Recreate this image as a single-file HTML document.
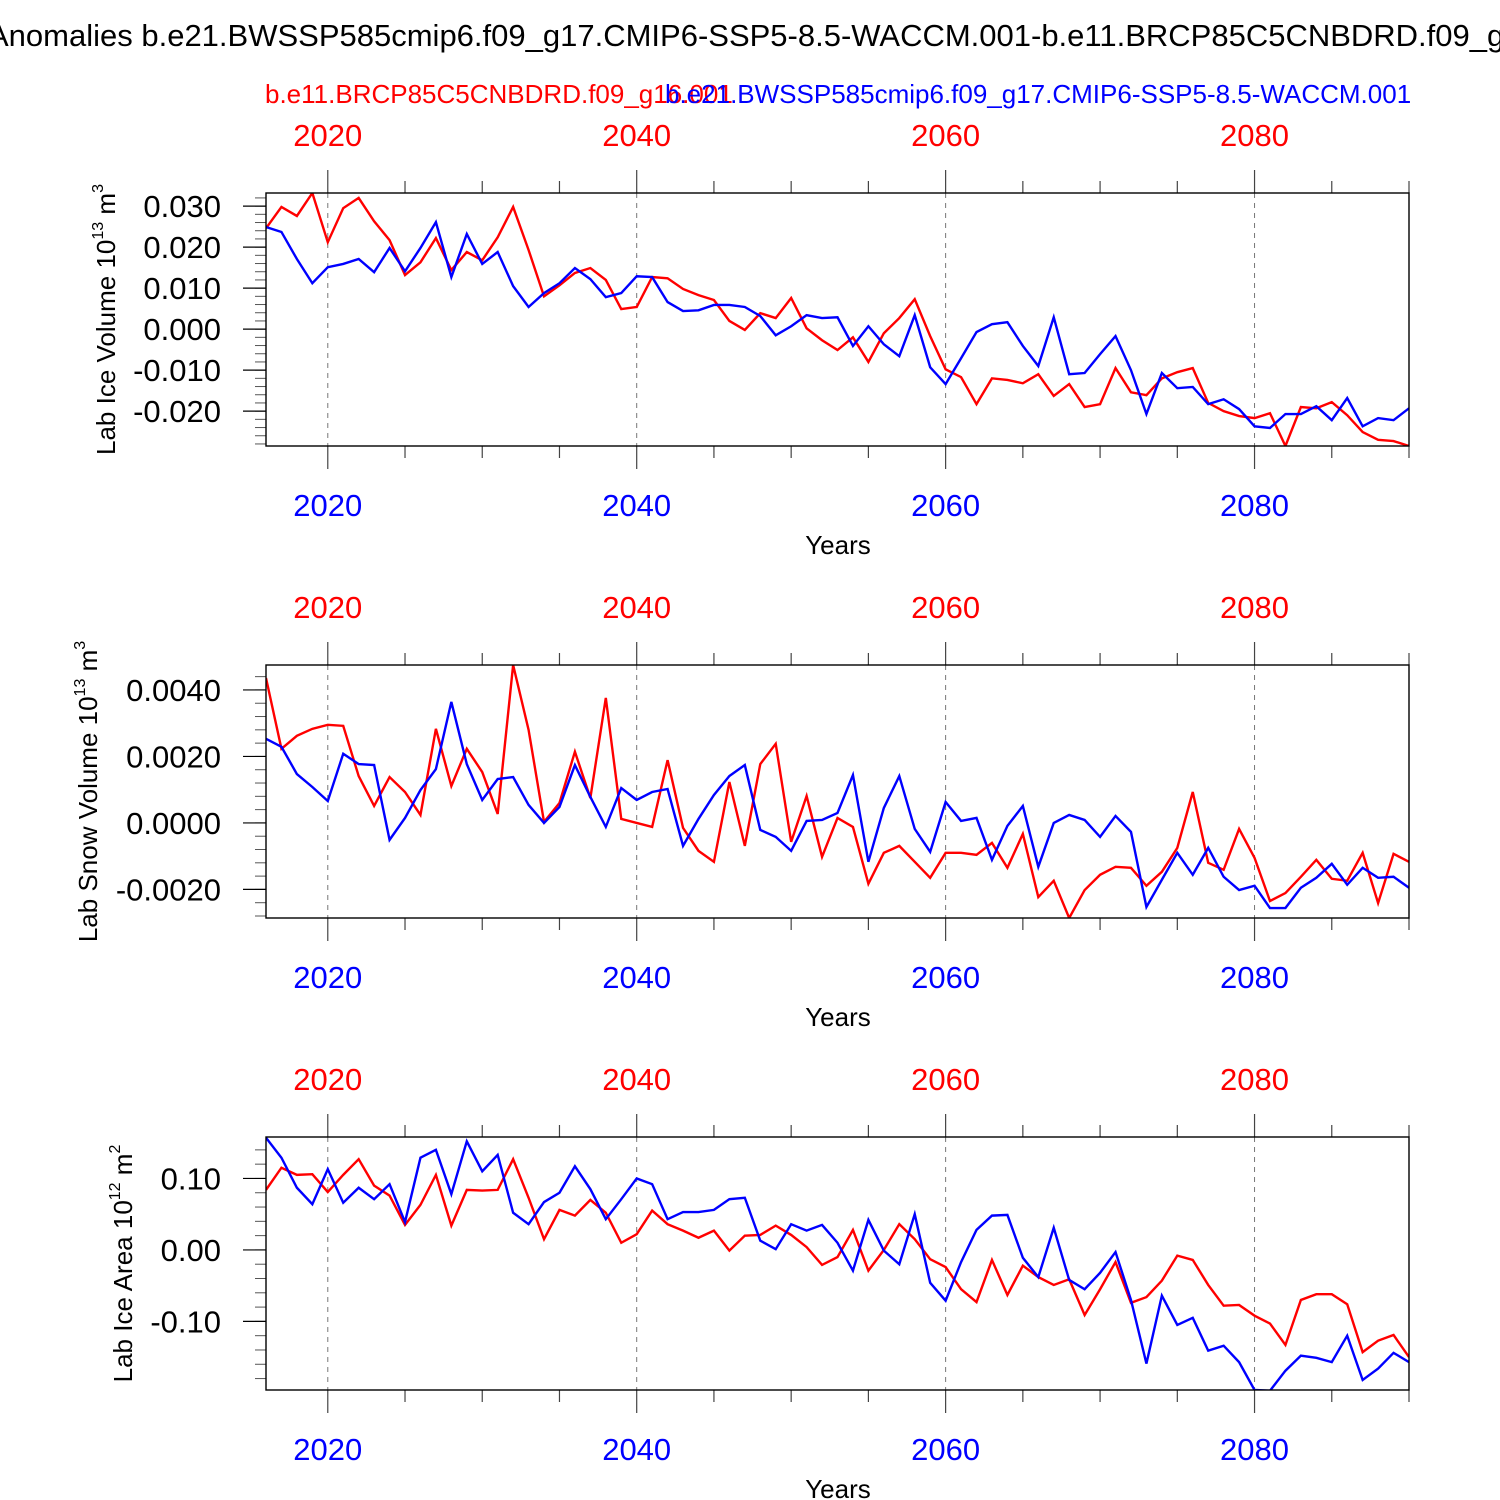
<!DOCTYPE html>
<html><head><meta charset="utf-8"><style>body{margin:0;background:#fff}svg{display:block}text{font-family:"Liberation Sans",sans-serif}</style></head>
<body>
<svg id="chart" width="1500" height="1500" xmlns="http://www.w3.org/2000/svg">
<text x="-12" y="46" font-size="31" fill="#000">Anomalies b.e21.BWSSP585cmip6.f09_g17.CMIP6-SSP5-8.5-WACCM.001-b.e11.BRCP85C5CNBDRD.f09_g16.001</text>
<text x="265" y="103" font-size="26" fill="#ff0000">b.e11.BRCP85C5CNBDRD.f09_g16.001</text>
<text x="665" y="103" font-size="26" fill="#0000ff">b.e21.BWSSP585cmip6.f09_g17.CMIP6-SSP5-8.5-WACCM.001</text>
</svg>
<script>
const years=[];for(let y=2016;y<=2090;y++)years.push(y);
const iceVolRed=[0.0246,0.0298,0.0276,0.0332,0.0212,0.0295,0.032,0.0263,0.0217,0.0132,0.0163,0.0222,0.0144,0.0188,0.0168,0.0224,0.0298,0.0193,0.008,0.0107,0.0137,0.0149,0.012,0.0049,0.0054,0.0127,0.0124,0.0098,0.0083,0.0071,0.002,-0.0002,0.0039,0.0027,0.0076,0.0002,-0.0027,-0.0051,-0.002,-0.008,-0.001,0.0027,0.0073,-0.0017,-0.0098,-0.0117,-0.0183,-0.012,-0.0124,-0.0132,-0.011,-0.0163,-0.0134,-0.019,-0.0183,-0.0095,-0.0154,-0.0161,-0.012,-0.0105,-0.0095,-0.018,-0.02,-0.0212,-0.0217,-0.0205,-0.0285,-0.019,-0.0193,-0.0178,-0.021,-0.0251,-0.027,-0.0273,-0.0285];
const iceVolBlue=[0.0249,0.0237,0.0171,0.0112,0.0151,0.0159,0.0171,0.0139,0.0198,0.0141,0.0198,0.0261,0.0127,0.0232,0.0159,0.0188,0.0105,0.0054,0.0088,0.0112,0.0149,0.0122,0.0078,0.0088,0.0129,0.0127,0.0066,0.0044,0.0046,0.0059,0.0059,0.0054,0.0032,-0.0015,0.0007,0.0034,0.0027,0.0029,-0.0041,0.0007,-0.0037,-0.0066,0.0034,-0.0093,-0.0134,-0.0071,-0.0007,0.0012,0.0017,-0.0041,-0.009,0.0029,-0.011,-0.0107,-0.0061,-0.0017,-0.01,-0.0207,-0.0107,-0.0144,-0.0141,-0.0183,-0.0171,-0.0195,-0.0237,-0.0241,-0.0207,-0.0207,-0.0188,-0.0222,-0.0168,-0.0237,-0.0217,-0.0222,-0.0193];
const snowRed=[4.36,2.23,2.62,2.83,2.95,2.92,1.41,0.51,1.38,0.93,0.24,2.83,1.11,2.23,1.53,0.27,4.75,2.8,0.03,0.6,2.14,0.75,3.76,0.12,0,-0.12,1.89,-0.15,-0.84,-1.17,1.23,-0.69,1.77,2.38,-0.57,0.81,-1.02,0.15,-0.12,-1.83,-0.9,-0.69,-1.17,-1.65,-0.9,-0.9,-0.96,-0.6,-1.35,-0.33,-2.23,-1.74,-2.86,-2.02,-1.56,-1.32,-1.35,-1.89,-1.47,-0.75,0.93,-1.2,-1.41,-0.18,-1.05,-2.35,-2.11,-1.62,-1.11,-1.68,-1.74,-0.9,-2.41,-0.93,-1.17].map(v=>v/1000);
const snowBlue=[2.53,2.29,1.47,1.08,0.66,2.08,1.77,1.74,-0.51,0.15,0.99,1.62,3.64,1.77,0.69,1.32,1.38,0.54,0,0.48,1.74,0.78,-0.12,1.05,0.69,0.93,1.02,-0.69,0.12,0.84,1.41,1.74,-0.21,-0.42,-0.84,0.06,0.09,0.3,1.44,-1.17,0.45,1.41,-0.18,-0.87,0.63,0.06,0.15,-1.11,-0.09,0.51,-1.32,0,0.24,0.09,-0.42,0.21,-0.27,-2.53,-1.71,-0.9,-1.56,-0.75,-1.62,-2.02,-1.89,-2.56,-2.56,-1.95,-1.65,-1.23,-1.86,-1.35,-1.65,-1.62,-1.95].map(v=>v/1000);
const areaRed=[0.084,0.115,0.105,0.106,0.081,0.105,0.127,0.09,0.076,0.035,0.063,0.105,0.034,0.084,0.083,0.084,0.127,0.073,0.015,0.056,0.048,0.07,0.052,0.01,0.022,0.055,0.036,0.027,0.017,0.027,-0.001,0.02,0.021,0.034,0.021,0.004,-0.021,-0.01,0.028,-0.029,0,0.036,0.015,-0.013,-0.024,-0.055,-0.073,-0.014,-0.063,-0.022,-0.038,-0.049,-0.041,-0.091,-0.055,-0.017,-0.074,-0.066,-0.043,-0.008,-0.014,-0.049,-0.078,-0.077,-0.092,-0.103,-0.133,-0.07,-0.062,-0.062,-0.076,-0.143,-0.127,-0.119,-0.15];
const areaBlue=[0.157,0.129,0.087,0.064,0.113,0.066,0.087,0.071,0.092,0.039,0.129,0.14,0.078,0.152,0.11,0.133,0.052,0.036,0.067,0.08,0.117,0.085,0.043,0.071,0.1,0.092,0.043,0.053,0.053,0.056,0.071,0.073,0.013,0.001,0.036,0.027,0.035,0.01,-0.029,0.042,-0.001,-0.02,0.05,-0.046,-0.071,-0.017,0.028,0.048,0.049,-0.011,-0.038,0.031,-0.042,-0.055,-0.032,-0.003,-0.07,-0.159,-0.064,-0.105,-0.095,-0.141,-0.134,-0.157,-0.196,-0.197,-0.169,-0.148,-0.151,-0.157,-0.12,-0.182,-0.166,-0.144,-0.157];
const xTickYears=[2020,2040,2060,2080];
const ticks1=[0.03,0.02,0.01,0,-0.01,-0.02], labels1=["0.030","0.020","0.010","0.000","-0.010","-0.020"];
const ticks2=[0.004,0.002,0,-0.002], labels2=["0.0040","0.0020","0.0000","-0.0020"];
const ticks3=[0.1,0,-0.1], labels3=["0.10","0.00","-0.10"];

const svg=document.getElementById('chart');const NS='http://www.w3.org/2000/svg';
function mk(tag,attrs,parent){const e=document.createElementNS(NS,tag);for(const k in attrs)e.setAttribute(k,attrs[k]);(parent||svg).appendChild(e);return e;}
const X0=266,X1=1409,Y0=2016,Y1=2090;
function xs(y){return X0+(y-Y0)*(X1-X0)/(Y1-Y0);}
function panel(top,vmin,vmax,ticks,labels,minorStep,red,blue,title,titleX,sup,name){
  const bot=top+253;
  const ys=v=>bot-(v-vmin)*(bot-top)/(vmax-vmin);
  const g=mk('g',{});
  
  
  xTickYears.forEach(yr=>{const l=mk('line',{x1:xs(yr),x2:xs(yr),y1:top,y2:bot,stroke:'#777','stroke-width':1,'stroke-dasharray':'5,5'},g);
    
    });
  for(let yr=2020;yr<=2090;yr+=5){const maj=(yr%20===0);const L=maj?23:12;
    mk('line',{x1:xs(yr),x2:xs(yr),y1:top,y2:top-L,stroke:'#444','stroke-width':1.2},g);
    mk('line',{x1:xs(yr),x2:xs(yr),y1:bot,y2:bot+L,stroke:'#444','stroke-width':1.2},g);}
  for(let v=Math.ceil(vmin/minorStep)*minorStep;v<=vmax+1e-12;v+=minorStep){mk('line',{x1:X0,x2:X0-11,y1:ys(v),y2:ys(v),stroke:'#555','stroke-width':1},g);}
  ticks.forEach((v,i)=>{mk('line',{x1:X0,x2:X0-23,y1:ys(v),y2:ys(v),stroke:'#000','stroke-width':1.2},g);
    const t=mk('text',{x:221,y:ys(v)+11,'font-size':31,'text-anchor':'end'},g);t.textContent=labels[i];
    
    });
  xTickYears.forEach(yr=>{
    const a=mk('text',{x:xs(yr),y:top-47,'font-size':31,'text-anchor':'middle',fill:'#ff0000'},g);a.textContent=yr;
    
    
    const b=mk('text',{x:xs(yr),y:bot+70,'font-size':31,'text-anchor':'middle',fill:'#0000ff'},g);b.textContent=yr;
    
    });
  const xt=mk('text',{x:838,y:bot+108,'font-size':26,'text-anchor':'middle'},g);xt.textContent='Years';
  
  
  const yt=mk('text',{x:0,y:0,'font-size':26,'text-anchor':'middle',transform:`translate(${titleX},${(top+bot)/2}) rotate(-90)`},g);
  
  
  yt.innerHTML=title+' 10<tspan font-size="16" dy="-12">'+sup+'</tspan><tspan dy="12"> m</tspan><tspan font-size="16" dy="-12">'+(name==='panel-ice-area'?'2':'3')+'</tspan>';
  const cp='clip'+top;const d=mk('clipPath',{id:cp},g);mk('rect',{x:X0,y:top,width:X1-X0,height:bot-top},d);
  [[red,'#ff0000','series-red'],[blue,'#0000ff','series-blue']].forEach(([arr,c,n])=>{
    const p=mk('polyline',{points:arr.map((v,i)=>xs(years[i])+','+ys(v)).join(' '),fill:'none',stroke:c,'stroke-width':2.4,'clip-path':`url(#${cp})`},g);
    
    });
  mk('rect',{x:X0,y:top,width:X1-X0,height:bot-top,fill:'none',stroke:'#000','stroke-width':1.4},g);
}
panel(193,-0.0285,0.0332,ticks1,labels1,0.002,iceVolRed,iceVolBlue,'Lab Ice Volume',115,'13','panel-ice-volume');
panel(665,-0.00286,0.00475,ticks2,labels2,0.0004,snowRed,snowBlue,'Lab Snow Volume',97,'13','panel-snow-volume');
panel(1137,-0.196,0.158,ticks3,labels3,0.02,areaRed,areaBlue,'Lab Ice Area',132,'12','panel-ice-area');
</script>
</body></html>
